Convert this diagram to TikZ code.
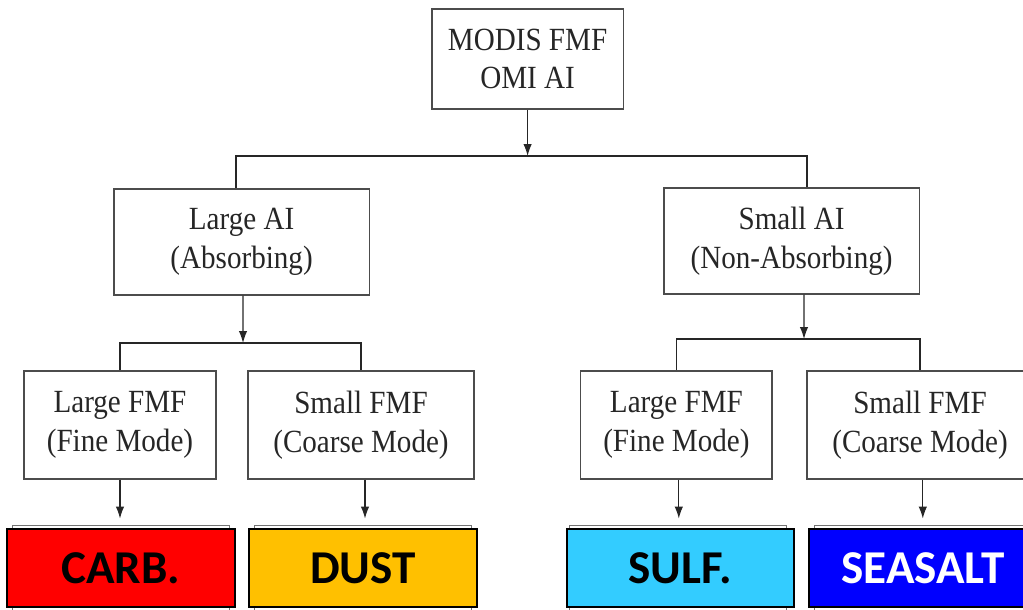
\documentclass[tikz,border=0pt]{standalone}
\usepackage{fontspec}
\setmainfont{Liberation Serif}[FakeStretch=0.9]
\newfontfamily\tagfont{Carlito}
\usetikzlibrary{arrows.meta}
\definecolor{carbred}{HTML}{FF0000}
\definecolor{dustgold}{HTML}{FFC000}
\definecolor{sulfcyan}{HTML}{33CCFF}
\definecolor{saltblue}{HTML}{0000FF}

\begin{document}
\begin{tikzpicture}[
        box/.style={draw=black!70, line width=0.8pt, align=center, inner sep=0pt,
                    text=black!85, font=\fontsize{23}{27.5}\selectfont},
        ghost/.style={draw=black!55, line width=0.6pt, inner sep=0pt,
                      minimum width=5.425cm, minimum height=2.4cm},
        tag/.style={draw=black, line width=1.6pt, inner sep=0pt,
                    minimum width=5.7cm, minimum height=1.95cm,
                    font=\tagfont\bfseries\fontsize{33.5}{38}\selectfont},
        link/.style={line width=0.8pt, draw=black!85},
        >={Latex[length=8.5pt,width=6pt]}
    ]
            \useasboundingbox (0,0) rectangle (25.575,15.25);
            \clip (0,0) rectangle (25.575,15.25);

            \node[box, minimum width=4.78cm, minimum height=2.5cm] (M) at (13.19,13.775) {MODIS FMF\\OMI AI};
            \node[box, minimum width=6.38cm, minimum height=2.65cm] (LA) at (6.04,9.2)  {Large AI\\(Absorbing)};
            \node[box, minimum width=6.38cm, minimum height=2.65cm] (SA) at (19.79,9.225) {Small AI\\(Non-Absorbing)};

            \node[box, minimum width=4.8cm,  minimum height=2.7cm] (LF1) at (3.0,4.625)   {Large FMF\\(Fine Mode)};
            \node[box, minimum width=5.65cm, minimum height=2.7cm] (SF1) at (9.025,4.625) {Small FMF\\(Coarse Mode)};
            \node[box, minimum width=4.78cm, minimum height=2.7cm] (LF2) at (16.91,4.625) {Large FMF\\(Fine Mode)};
            \node[box, minimum width=5.65cm, minimum height=2.7cm] (SF2) at (23.0,4.625)  {Small FMF\\(Coarse Mode)};

            % old white boxes behind the coloured ones
            \node[ghost] (G1) at (3.0125,0.925)  {};
            \node[ghost] (G2) at (9.0625,0.925)  {};
            \node[ghost] (G3) at (16.9375,0.925) {};
            \node[ghost] (G4) at (23.0625,0.925) {};

            \node[tag, fill=carbred]  (C1) at (3.025,1.05)  {CARB.};
            \node[tag, fill=dustgold] (C2) at (9.075,1.05)  {DUST};
            \node[tag, fill=sulfcyan, minimum width=5.68cm] (C3) at (17.01,1.05) {SULF.};
            \node[tag, fill=saltblue, text=white] (C4) at (23.075,1.05) {SEASALT};

            \coordinate (j1) at (13.19,11.35);
            \coordinate (j2) at (6.075,6.675);
            \coordinate (j3) at (20.1,6.775);
            \coordinate (a1) at (LF1.south);
            \coordinate (a2) at ([xshift=0.1cm]SF1.south);
            \coordinate (a3) at ([xshift=0.06cm]LF2.south);
            \coordinate (a4) at ([xshift=0.07cm]SF2.south);

            \draw[link, ->] (M) -- (j1);
            \draw[link] ([xshift=-0.14cm]LA.north) |- (j1) -| ([xshift=0.385cm]SA.north);
            \draw[link, ->] ([xshift=0.035cm]LA.south) -- (j2);
            \draw[link] (LF1.north) |- (j2) -| (SF1.north);
            \draw[link, ->] ([xshift=0.31cm]SA.south) -- (j3);
            \draw[link] (LF2.north) |- (j3) -| (SF2.north);

            \draw[link, ->] (a1) -- ([yshift=0.15cm]a1 |- G1.north);
            \draw[link, ->] (a2) -- ([yshift=0.15cm]a2 |- G2.north);
            \draw[link, ->] (a3) -- ([yshift=0.15cm]a3 |- G3.north);
            \draw[link, ->] (a4) -- ([yshift=0.15cm]a4 |- G4.north);
\end{tikzpicture}
\end{document}
